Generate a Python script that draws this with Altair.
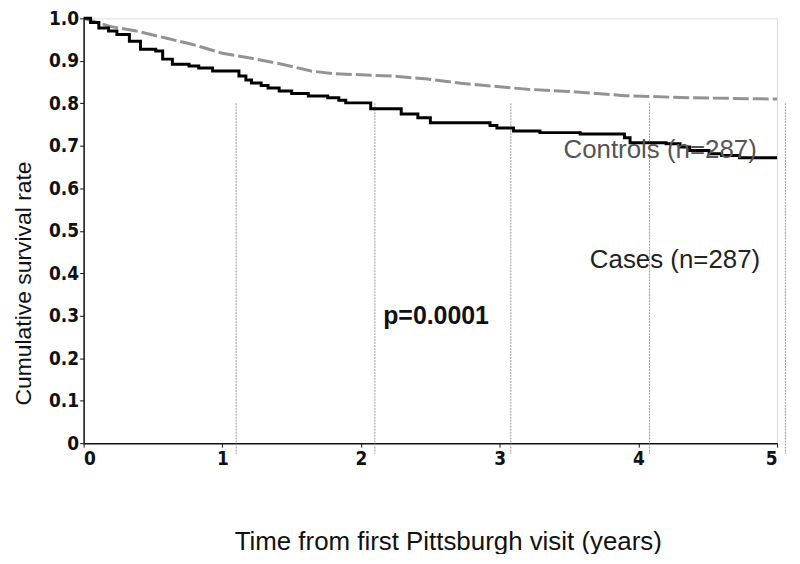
import altair as alt
import pandas as pd

# Cases (solid black step curve)
cases_t = [0, 0.05, 0.11, 0.18, 0.24, 0.33, 0.41, 0.52, 0.57, 0.64, 0.76, 0.83, 0.93,
           1.12, 1.17, 1.21, 1.28, 1.33, 1.41, 1.5, 1.62, 1.76, 1.84, 1.89, 2.07, 2.29,
           2.41, 2.5, 2.93, 2.98, 3.1, 3.29, 3.58, 3.9, 3.94, 4.2, 4.3, 4.37, 4.51, 4.6,
           4.73, 5.0]
cases_s = [1.0, 0.99, 0.977, 0.97, 0.962, 0.946, 0.927, 0.923, 0.904, 0.892, 0.888, 0.883, 0.876,
           0.864, 0.855, 0.848, 0.842, 0.836, 0.829, 0.823, 0.817, 0.813, 0.807, 0.801, 0.787, 0.775,
           0.766, 0.754, 0.748, 0.742, 0.735, 0.731, 0.728, 0.719, 0.707, 0.705, 0.697, 0.689, 0.681,
           0.677, 0.672, 0.672]

# Controls (grey dashed curve)
ctrl_t = [0, 0.19, 0.38, 0.6, 0.78, 1.0, 1.21, 1.43, 1.64, 1.79, 2.0, 2.24, 2.48, 2.72, 2.96,
          3.2, 3.5, 3.9, 4.37, 5.0]
ctrl_s = [1.0, 0.981, 0.97, 0.953, 0.939, 0.918, 0.906, 0.892, 0.876, 0.87, 0.867, 0.864, 0.857,
          0.847, 0.84, 0.833, 0.828, 0.818, 0.813, 0.81]

# thin vertical grey lines in the picture
vline_x = [1.1, 2.1, 3.08, 4.08, 5.06]
vline_top = 0.8
vline_bottom = -0.025

# annotations
label_text = ["Controls (n=287)", "Cases (n=287)", "p=0.0001"]
label_x = [3.46, 3.65, 2.16]
label_y = [0.689, 0.431, 0.299]

cases_df = pd.DataFrame({"t": cases_t, "s": cases_s})
ctrl_df = pd.DataFrame({"t": ctrl_t, "s": ctrl_s})
vl_df = pd.DataFrame({"x": vline_x, "y": [vline_top] * len(vline_x), "y2": [vline_bottom] * len(vline_x)})

FONT = "Liberation Sans"
NARROW = "DejaVu Sans Condensed"

xscale = alt.Scale(domain=[0, 5], nice=False, zero=False)
yscale = alt.Scale(domain=[0, 1], nice=False)

xaxis = alt.Axis(values=[0, 1, 2, 3, 4, 5], format="d", title="Time from first Pittsburgh visit (years)",
                 titleFontSize=26, titleFontWeight="normal", titleFont=FONT,
                 titleX=366, titleY=99, titleBaseline="middle", titleAlign="center",
                 titleColor="#111", labelFont=NARROW, labelFontSize=19, labelFontWeight="bold",
                 labelColor="#111", domainColor="#111", domainWidth=1.5, tickColor="#111",
                 tickSize=4, grid=False, labelPadding=2)
yaxis = alt.Axis(values=[0, 0.1, 0.2, 0.3, 0.4, 0.5, 0.6, 0.7, 0.8, 0.9, 1.0],
                 labelExpr="datum.value == 0 ? '0' : format(datum.value, '.1f')",
                 title="Cumulative survival rate", titleFontSize=23, titleFontWeight="normal",
                 titleFont=FONT, titleX=-60, titleY=266, titleBaseline="middle", titleAlign="center",
                 titleAngle=270, titleColor="#111", labelFont=NARROW,
                 labelFontSize=19, labelFontWeight="bold", labelColor="#111", domainColor="#111",
                 domainWidth=1.5, tickColor="#111", tickSize=4, grid=False, labelPadding=1)

vlines = alt.Chart(vl_df).mark_rule(color="#9a9a9a", strokeWidth=1, strokeDash=[2, 1]).encode(
    x=alt.X("x:Q", scale=xscale, axis=xaxis),
    y=alt.Y("y:Q", scale=yscale, axis=yaxis),
    y2="y2:Q",
)

ctrl = alt.Chart(ctrl_df).mark_line(color="#939393", strokeWidth=3, strokeDash=[16, 4]).encode(
    x=alt.X("t:Q", scale=xscale),
    y=alt.Y("s:Q", scale=yscale),
)

cases = alt.Chart(cases_df).mark_line(color="#000000", strokeWidth=3, interpolate="step-after").encode(
    x=alt.X("t:Q", scale=xscale),
    y=alt.Y("s:Q", scale=yscale),
)

lab_df = pd.DataFrame({"text": label_text, "x": label_x, "y": label_y})

ctrl_lab = alt.Chart(lab_df.iloc[[0]]).mark_text(align="left", baseline="middle", font=FONT,
                                                 fontSize=26, color="#555555").encode(
    x=alt.X("x:Q", scale=xscale), y=alt.Y("y:Q", scale=yscale), text="text:N")
cases_lab = alt.Chart(lab_df.iloc[[1]]).mark_text(align="left", baseline="middle", font=FONT,
                                                  fontSize=26, color="#222222").encode(
    x=alt.X("x:Q", scale=xscale), y=alt.Y("y:Q", scale=yscale), text="text:N")
p_lab = alt.Chart(lab_df.iloc[[2]]).mark_text(align="left", baseline="middle", font=FONT,
                                              fontSize=25, fontWeight="bold", color="#111").encode(
    x=alt.X("x:Q", scale=xscale), y=alt.Y("y:Q", scale=yscale), text="text:N")

chart = alt.layer(vlines, ctrl, cases, ctrl_lab, cases_lab, p_lab).properties(
    width=697, height=427,
    autosize=alt.AutoSizeParams(type="none"),
    padding={"left": 76, "top": 9, "right": 15, "bottom": 110},
).configure_view(stroke=None).configure(background="white")

chart.save("out.html", embed_options={"renderer": "svg", "actions": False})
